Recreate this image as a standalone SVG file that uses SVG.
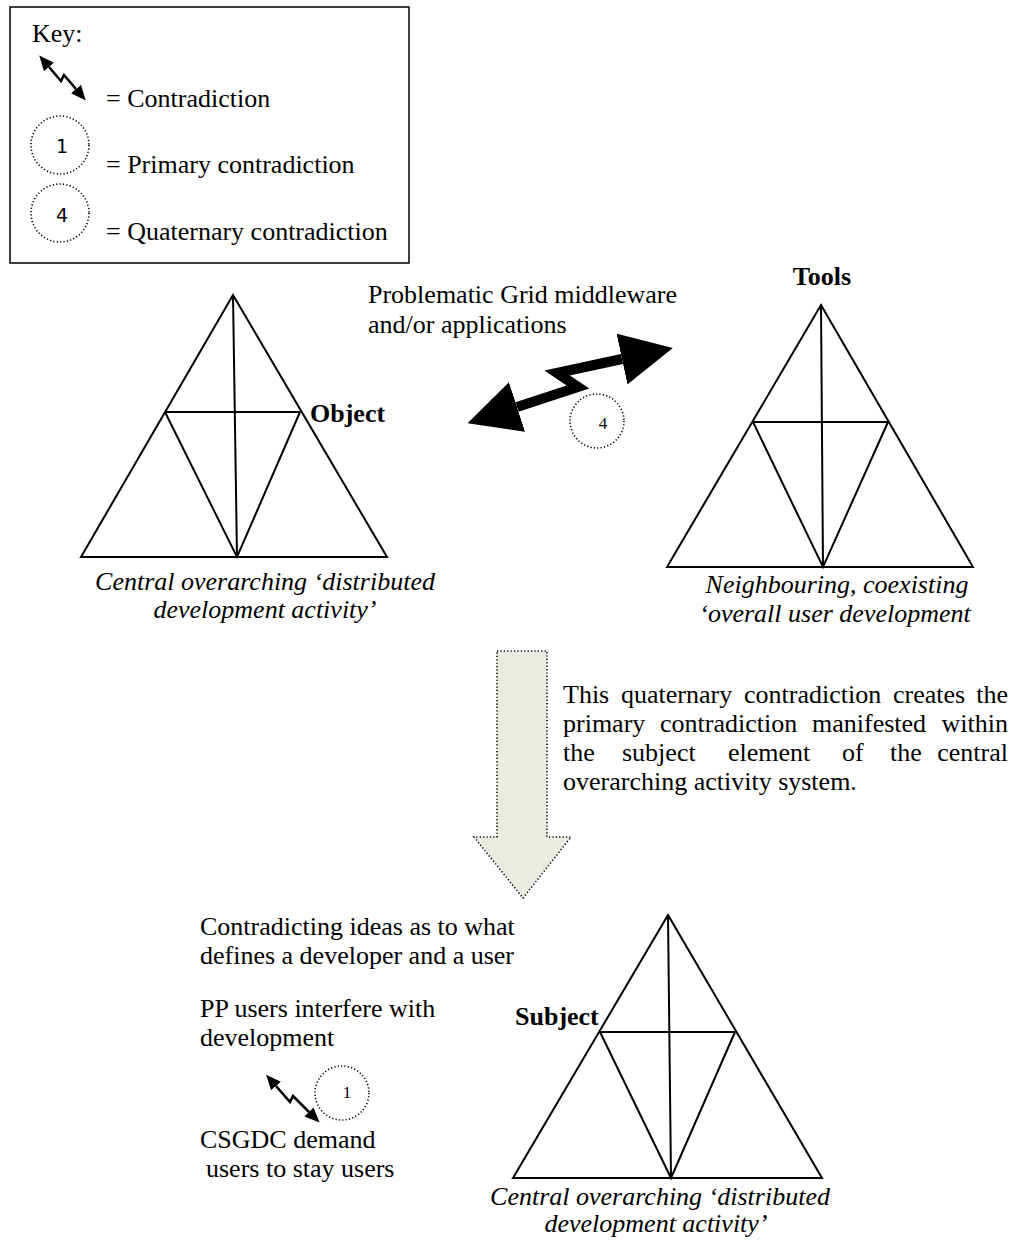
<svg xmlns="http://www.w3.org/2000/svg" width="1016" height="1246" viewBox="0 0 1016 1246">
  <style>
    .t { font-family: "Liberation Serif", "Times New Roman", serif; font-size: 26px; fill: #000; }
    .b { font-weight: bold; }
    .i { font-style: italic; }
    .tri { fill: none; stroke: #000; stroke-width: 2; stroke-linejoin: miter; }
    .dot { fill: #fff; stroke: #000; stroke-width: 1.6; stroke-dasharray: 1.2 2.2; }
    .num { font-family: "DejaVu Sans", sans-serif; font-size: 19px; text-anchor: middle; }
    .nums { font-family: "Liberation Serif", serif; font-size: 17px; text-anchor: middle; }
    .zig { fill: none; stroke: #000; stroke-width: 2.6; stroke-linejoin: miter; }
  </style>
  <defs>
    <marker id="headSmall" markerUnits="userSpaceOnUse" markerWidth="15" markerHeight="13" refX="0" refY="6.5" orient="auto-start-reverse" viewBox="0 0 15 13">
      <path d="M0,0 L15,6.5 L0,13 z" fill="#000"/>
    </marker>
    <marker id="headBig" markerUnits="userSpaceOnUse" markerWidth="52" markerHeight="52" refX="0" refY="26" orient="auto-start-reverse" viewBox="0 0 52 52">
      <path d="M0,0 L52,26 L0,52 z" fill="#000"/>
    </marker>
  </defs>

  <rect width="1016" height="1246" fill="#fff"/>

  <!-- key -->
  <g id="key">
    <rect x="10" y="7" width="399" height="256" fill="#fff" stroke="#000" stroke-width="1.5"/>
    <text class="t" x="32" y="42">Key:</text>
    <path class="zig" d="M49,67 L61,81 L64,75 L76,89" marker-start="url(#headSmall)" marker-end="url(#headSmall)"/>
    <text class="t" x="106" y="107" font-size="26.5">= Contradiction</text>
    <circle class="dot" cx="60" cy="145" r="29"/>
    <text class="num" x="62" y="153">1</text>
    <text class="t" x="106" y="173" font-size="26.5">= Primary contradiction</text>
    <circle class="dot" cx="60" cy="213" r="29"/>
    <text class="num" x="62" y="222">4</text>
    <text class="t" x="106" y="240" font-size="26.5">= Quaternary contradiction</text>
  </g>

  <!-- central overarching activity system (object) -->
  <g id="object-system">
    <path class="tri" d="M233,295 L81,557 L387,557 Z M233,295 L237,557 M165,412 L300,412 M165,412 L237,557 L300,412"/>
    <text class="t b" x="310" y="422">Object</text>
    <text class="t i" x="265" y="590" text-anchor="middle" font-size="24">Central overarching ‘distributed</text>
    <text class="t i" x="265" y="618" text-anchor="middle" font-size="24">development activity’</text>
  </g>

  <!-- neighbouring activity system (tools) -->
  <g id="tools-system">
    <text class="t b" x="822" y="285" text-anchor="middle">Tools</text>
    <path class="tri" d="M821,305 L667,567 L973,567 Z M821,305 L823,567 M753,422 L888,422 M753,422 L823,567 L888,422"/>
    <text class="t i" x="837" y="593" text-anchor="middle">Neighbouring, coexisting</text>
    <text class="t i" x="835" y="622" text-anchor="middle">‘overall user development</text>
  </g>

  <!-- central overarching activity system (subject) -->
  <g id="subject-system">
    <path class="tri" d="M668,915 L513,1178 L822,1178 Z M668,915 L671,1178 M600,1032 L735,1032 M600,1032 L671,1178 L735,1032"/>
    <text class="t b" x="515" y="1025">Subject</text>
    <text class="t i" x="660" y="1205" text-anchor="middle">Central overarching ‘distributed</text>
    <text class="t i" x="656" y="1232" text-anchor="middle">development activity’</text>
  </g>

  <!-- quaternary contradiction between the two systems -->
  <g id="quaternary">
    <text class="t" x="368" y="303">Problematic Grid middleware</text>
    <text class="t" x="368" y="333">and/or applications</text>
    <circle class="dot" cx="597" cy="421" r="27"/>
    <text class="nums" x="603" y="429">4</text>
  </g>

  <!-- explanation -->
  <g id="explanation">
    <text class="t" y="703"><tspan x="563">This</tspan><tspan x="621">quaternary</tspan><tspan x="744">contradiction</tspan><tspan x="893">creates</tspan><tspan x="1008" text-anchor="end">the</tspan></text>
    <text class="t" y="732"><tspan x="563">primary</tspan><tspan x="660">contradiction</tspan><tspan x="812">manifested</tspan><tspan x="1008" text-anchor="end">within</tspan></text>
    <text class="t" y="761"><tspan x="563">the</tspan><tspan x="622">subject</tspan><tspan x="728">element</tspan><tspan x="842">of</tspan><tspan x="890">the</tspan><tspan x="1008" text-anchor="end">central</tspan></text>
    <text class="t" x="563" y="790">overarching activity system.</text>
  </g>

  <!-- primary contradiction within the subject -->
  <g id="primary">
    <text class="t" x="200" y="935">Contradicting ideas as to what</text>
    <text class="t" x="200" y="964">defines a developer and a user</text>
    <text class="t" x="200" y="1017">PP users interfere with</text>
    <text class="t" x="200" y="1046">development</text>
    <circle class="dot" cx="342" cy="1093" r="27"/>
    <text class="nums" x="347" y="1098" font-size="14">1</text>
    <text class="t" x="200" y="1148">CSGDC demand</text>
    <text class="t" x="206" y="1177">users to stay users</text>
  </g>

  <!-- connectors -->
  <g id="connectors">
    <path d="M517,407 L578,387 L557,373 L622,359" fill="none" stroke="#000" stroke-width="10" stroke-linejoin="miter" marker-start="url(#headBig)" marker-end="url(#headBig)"/>
    <path class="zig" d="M276,1086 L290,1102 L293,1096 L309,1112" marker-start="url(#headSmall)" marker-end="url(#headSmall)"/>
    <polygon points="497,651 547,651 547,837 571,837 523,898 474,837 497,837" fill="#ecebe2" stroke="#000" stroke-width="1.6" stroke-dasharray="1.2 2.2"/>
  </g>
</svg>
